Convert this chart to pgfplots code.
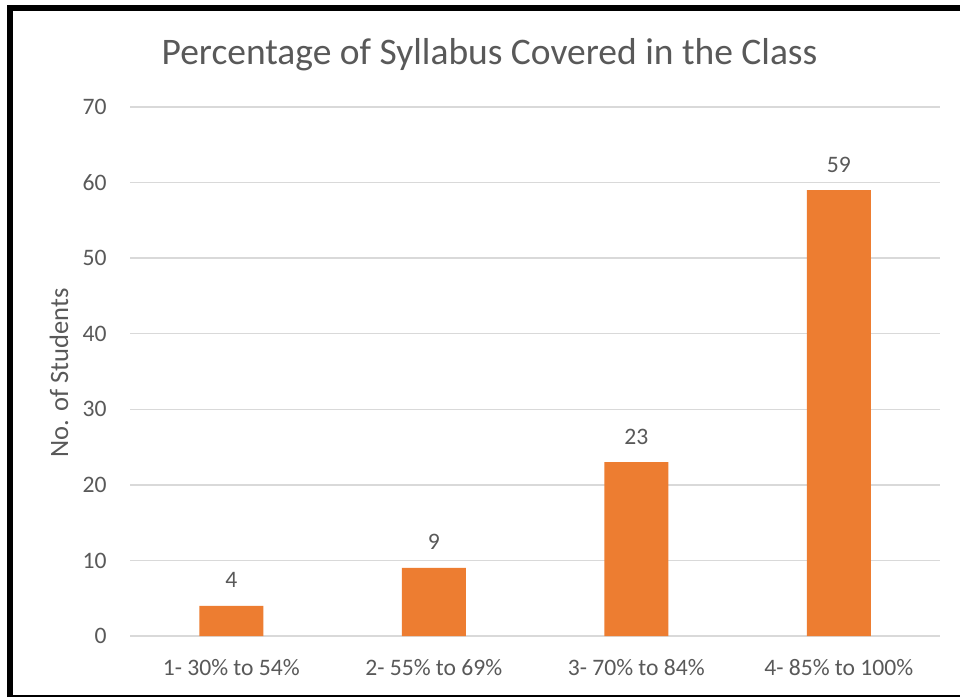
\documentclass[border=0pt]{standalone}
\usepackage{fontspec}
\setmainfont{Carlito}
\usepackage{pgfplots}
\pgfplotsset{compat=1.18}
\definecolor{bartc}{HTML}{ED7D31}
\definecolor{txtc}{HTML}{595959}
\definecolor{gridc}{HTML}{D9D9D9}
\begin{document}
\begin{tikzpicture}[x=1pt,y=1pt]
\useasboundingbox (0,0) rectangle (960,697);
\fill[white] (0,0) rectangle (960,697);
\begin{axis}[
  at={(130pt,61pt)}, anchor=south west,
  scale only axis, width=810pt, height=529pt,
  xmin=-0.5, xmax=3.5, ymin=0, ymax=70,
  ytick={0,10,...,70},
  xtick=data,
  xticklabels={1- 30\% to 54\%, 2- 55\% to 69\%, 3- 70\% to 84\%, 4- 85\% to 100\%},
  axis line style={draw=none},
  major tick length=0pt,
  ymajorgrids, grid style={gridc, line width=1.3pt},
  ybar, bar width=64pt,
  tick label style={font=\fontsize{23.6}{28}\selectfont, text=txtc},
  /pgf/number format/assume math mode=true,
  yticklabel style={anchor=east, xshift=-20pt},
  xticklabel style={anchor=base, yshift=-39pt},
  nodes near coords,
  nodes near coords style={font=\fontsize{23.6}{28}\selectfont, text=txtc, anchor=base, inner sep=0pt, yshift=18pt},
  clip=false,
]
\addplot[fill=bartc, draw=none] coordinates {(0,4) (1,9) (2,23) (3,59)};
\end{axis}
\node[anchor=base, text=txtc, font=\fontsize{37.5}{45}\selectfont, inner sep=0pt] at (489.5,632) {Percentage of Syllabus Covered in the Class};
\node[rotate=90, anchor=base, text=txtc, font=\fontsize{26.5}{32}\selectfont, inner sep=0pt] at (68,324) {No. of Students};
\draw[black, line width=6pt] (10,0) -- (10,689) -- (960,689);
\draw[black, line width=2pt] (10,1) -- (960,1);
\end{tikzpicture}
\end{document}
